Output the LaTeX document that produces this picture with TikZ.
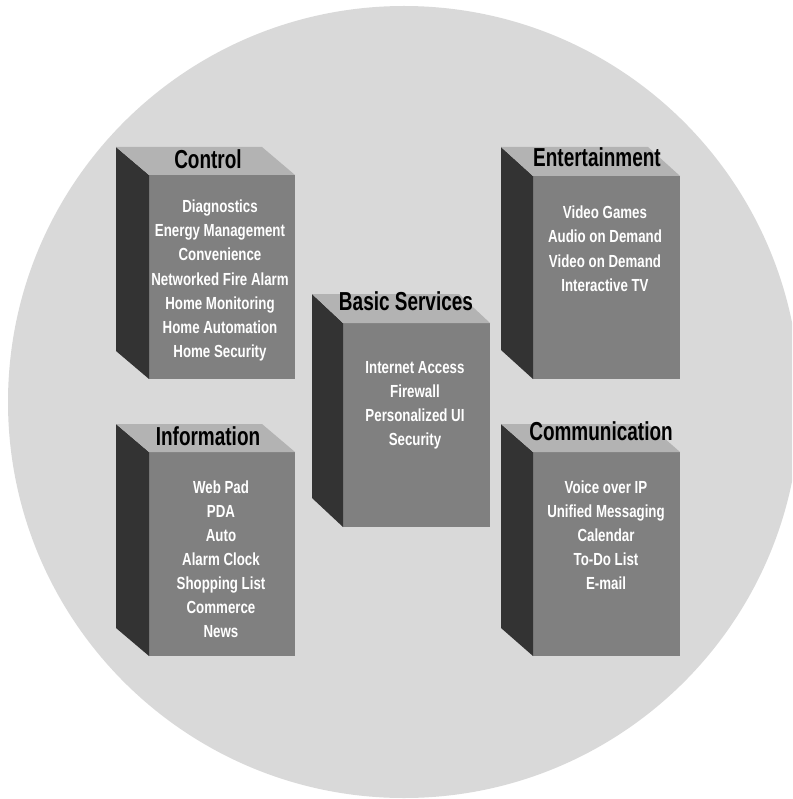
\documentclass[tikz,border=0pt]{standalone}
\usepackage{fontspec}
\newfontfamily\titlefont{Liberation Sans}[FakeStretch=0.73]
\newfontfamily\itemfont{Liberation Sans}[FakeStretch=0.76]
\definecolor{bg}{HTML}{D9D9D9}
\definecolor{frontc}{HTML}{808080}
\definecolor{sidec}{HTML}{333333}
\definecolor{topc}{HTML}{B3B3B3}
\tikzset{
  title/.style={inner sep=0pt, anchor=base, font=\titlefont\bfseries\fontsize{26}{28}\selectfont, text=black},
  item/.style={inner sep=0pt, anchor=base, font=\itemfont\bfseries\fontsize{17.5}{24}\selectfont, text=white},
}
% cube: x0 y0 x1 y1 dx dy (front face corners, depth offset)
\newcommand\mycube[6]{%
  \fill[frontc] (#1,#2) rectangle (#3,#4);
  \fill[sidec] ({#1-#5},{#2-#6}) -- (#1,#2) -- (#1,#4) -- ({#1-#5},{#4-#6}) -- cycle;
  \fill[topc] ({#1-#5},{#2-#6}) -- ({#3-#5},{#2-#6}) -- (#3,#2) -- (#1,#2) -- cycle;
}
\newcommand\myitems[4]{%
  \foreach \t [count=\i] in {#4} {
    \node[item] (#1-\i) at (#2,{#3+24*(\i-1)}) {\t};
  }
}
\begin{document}
\begin{tikzpicture}[x=1pt,y=-1pt]
\useasboundingbox (0,0) rectangle (792,799);
\begin{scope}
\clip (0,0) rectangle (792,799);
\fill[bg] (404,402) circle[radius=396];
\end{scope}

% Control
\mycube{149}{175}{295}{379}{33}{28}
\node[title] (control) at (208,169) {Control};
\myitems{ctl}{220}{213}{Diagnostics,Energy Management,Convenience,Networked Fire Alarm,Home Monitoring,Home Automation,Home Security}

% Entertainment
\mycube{533}{176}{680}{379}{32}{29}
\node[title] (ent) at (597,167) {Entertainment};
\myitems{ent}{605}{219}{Video Games,Audio on Demand,Video on Demand,Interactive TV}

% Basic Services
\mycube{343}{323}{490}{527}{31}{29}
\node[title] (basic) at (406,310) {Basic Services};
\myitems{bas}{415}{373}{Internet Access,Firewall,Personalized UI,Security}

% Information
\mycube{149}{452}{295}{656}{33}{28}
\node[title] (info) at (208,445) {Information};
\myitems{inf}{221}{493}{Web Pad,PDA,Auto,Alarm Clock,Shopping List,Commerce,News}

% Communication
\mycube{533}{452}{680}{656}{32}{28}
\node[title] (comm) at (601,440) {Communication};
\myitems{com}{606}{493}{Voice over IP,Unified Messaging,Calendar,To-Do List,E-mail}
\end{tikzpicture}
\end{document}
